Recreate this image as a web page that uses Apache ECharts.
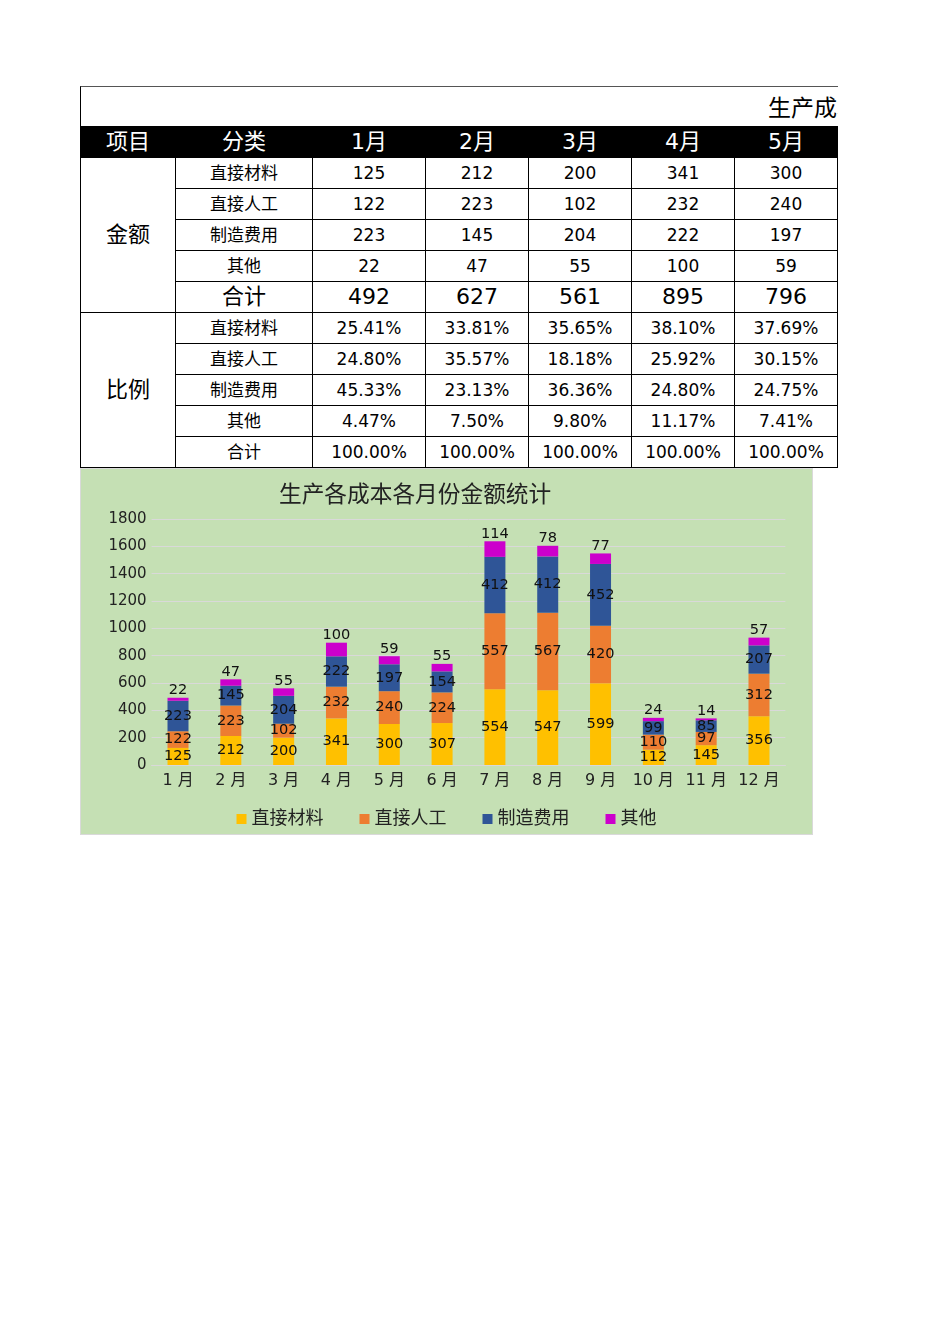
<!DOCTYPE html>
<html>
<head>
<meta charset="utf-8">
<script src="https://cdn.jsdelivr.net/npm/echarts@6/dist/echarts.min.js"></script>
<style>
  html, body { margin: 0; padding: 0; background: #fff; width: 950px; height: 1344px; overflow: hidden; }
  #tbl { position: absolute; left: 80px; top: 86px; width: 758px; overflow: hidden; font-family: "DejaVu Sans", "Noto Sans CJK SC", sans-serif; color: #000; }
  #titleRow { position: relative; height: 39px; border-top: 1px solid #555; border-left: 1px solid #000; overflow: hidden; }
  #titleRow span { position: absolute; left: 687px; top: 2px; font-size: 23px; white-space: nowrap; }
  table { border-collapse: collapse; table-layout: fixed; width: 757px; }
  td { border: 1px solid #000; text-align: center; padding: 0; height: 30px; font-size: 17px; white-space: nowrap; overflow: hidden; line-height: 20px; }
  tr.head td { background: #000; color: #fff; font-size: 22px; height: 30px; line-height: 24px; border-color: #000; }
  td.big { font-size: 22px; line-height: 24px; }
  #chartWrap { position: absolute; left: 80px; top: 468px; width: 731px; height: 365px; border: 1px solid #d9d9d9; }
  #chart { width: 731px; height: 365px; }
</style>
</head>
<body>
<div id="tbl">
  <div id="titleRow"><span>生产成本统计表</span></div>
  <table id="t"></table>
</div>
<div id="chartWrap"><div id="chart"></div></div>
<script>
// ---- data ----
const months = ['1月','2月','3月','4月','5月','6月','7月','8月','9月','10月','11月','12月'];
const seriesNames = ['直接材料','直接人工','制造费用','其他'];
const directMaterial = [125, 212, 200, 341, 300, 307, 554, 547, 599, 112, 145, 356];
const directLabor    = [122, 223, 102, 232, 240, 224, 557, 567, 420, 110, 97, 312];
const mfgOverhead    = [223, 145, 204, 222, 197, 154, 412, 412, 452, 99, 85, 207];
const others         = [22, 47, 55, 100, 59, 55, 114, 78, 77, 24, 14, 57];
// table (visible months 1-5)
const tableMonths = ['1月','2月','3月','4月','5月'];
const totals = [492, 627, 561, 895, 796];
const pctMaterial = ['25.41%','33.81%','35.65%','38.10%','37.69%'];
const pctLabor    = ['24.80%','35.57%','18.18%','25.92%','30.15%'];
const pctOverhead = ['45.33%','23.13%','36.36%','24.80%','24.75%'];
const pctOthers   = ['4.47%','7.50%','9.80%','11.17%','7.41%'];
const pctTotal    = ['100.00%','100.00%','100.00%','100.00%','100.00%'];

// ---- table ----
(function(){
  const widths = [95,137,113,103,103,103,103];
  let h = '<colgroup>' + widths.map(w => '<col style="width:' + w + 'px">').join('') + '</colgroup>';
  h += '<tr class="head"><td>项目</td><td>分类</td>' + tableMonths.map(m => '<td>' + m + '</td>').join('') + '</tr>';
  const n = tableMonths.length;
  const amtRows = [
    ['直接材料', directMaterial.slice(0, n), false],
    ['直接人工', directLabor.slice(0, n), false],
    ['制造费用', mfgOverhead.slice(0, n), false],
    ['其他', others.slice(0, n), false],
    ['合计', totals, true]
  ];
  const pctRows = [
    ['直接材料', pctMaterial, false],
    ['直接人工', pctLabor, false],
    ['制造费用', pctOverhead, false],
    ['其他', pctOthers, false],
    ['合计', pctTotal, false]
  ];
  function block(label, rows) {
    let s = '';
    rows.forEach((r, i) => {
      s += '<tr>';
      if (i === 0) s += '<td rowspan="' + rows.length + '" class="big">' + label + '</td>';
      const cls = r[2] ? ' class="big"' : '';
      s += '<td' + cls + '>' + r[0] + '</td>';
      s += r[1].map(v => '<td' + cls + '>' + v + '</td>').join('');
      s += '</tr>';
    });
    return s;
  }
  h += block('金额', amtRows) + block('比例', pctRows);
  document.getElementById('t').innerHTML = h;
})();

// ---- chart ----
const font = '"DejaVu Sans", "Noto Sans CJK SC", sans-serif';
const colors = ['#FFC000', '#ED7D31', '#2F5597', '#CC00CC'];
const seriesData = [directMaterial, directLabor, mfgOverhead, others];
const chart = echarts.init(document.getElementById('chart'), null, { renderer: 'canvas' });
chart.setOption({
  backgroundColor: '#C5E0B4',
  animation: false,
  textStyle: { fontFamily: font },
  title: {
    text: '生产各成本各月份金额统计',
    left: 198, top: 16, padding: 0,
    textStyle: { fontSize: 22.7, fontWeight: 'normal', color: '#222', fontFamily: font }
  },
  grid: { left: 70.6, right: 26.6, top: 50, bottom: 69, containLabel: false },
  legend: {
    data: seriesNames,
    left: 'center', top: 336,
    icon: 'rect', itemWidth: 10, itemHeight: 10, itemGap: 36,
    textStyle: { fontSize: 18, color: '#222', fontFamily: font }
  },
  xAxis: {
    type: 'category',
    data: months,
    axisLine: { show: true, lineStyle: { color: '#D9D9D9' } },
    axisTick: { show: false },
    axisLabel: { interval: 0, fontSize: 16, color: '#222', margin: 8, fontFamily: font, formatter: v => v.replace('月', ' 月') }
  },
  yAxis: {
    type: 'value', min: 0, max: 1800, interval: 200,
    axisLine: { show: false }, axisTick: { show: false },
    splitLine: { lineStyle: { color: '#D9D9D9', width: 1 } },
    axisLabel: { fontSize: 15, color: '#222', margin: 5, fontFamily: font, formatter: v => String(v) }
  },
  series: seriesData.map((d, i) => ({
    name: seriesNames[i],
    type: 'bar',
    stack: 'total',
    data: d,
    barWidth: 21,
    itemStyle: { color: colors[i] },
    label: {
      show: true,
      position: i === 3 ? 'top' : 'inside',
      distance: 0,
      fontSize: 14.6, color: '#111', fontFamily: font
    }
  }))
});
</script>
</body>
</html>
